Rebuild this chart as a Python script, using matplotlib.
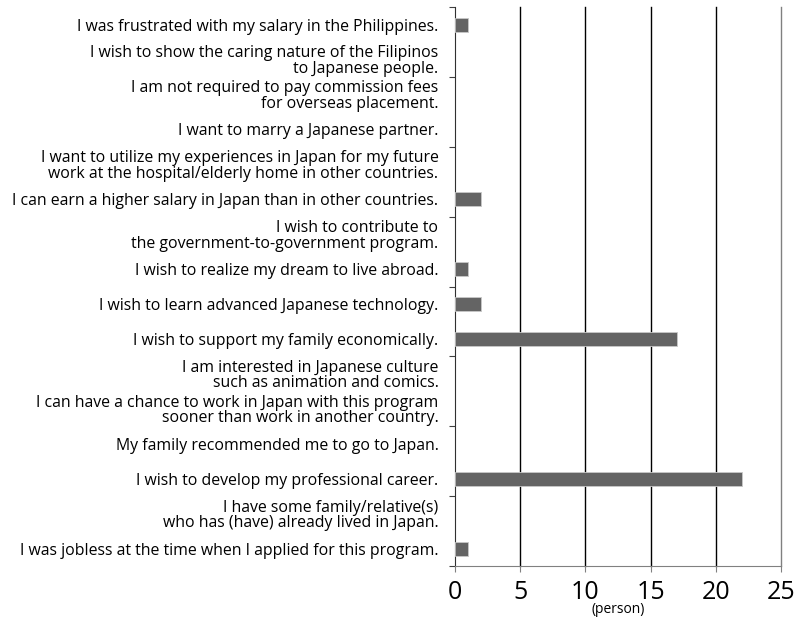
import matplotlib.pyplot as plt
import numpy as np

plt.rcParams['font.family'] = ['Open Sans', 'DejaVu Sans']

# top to bottom, as in the picture
labels = [
    'I was frustrated with my salary in the Philippines.',
    'I wish to show the caring nature of the Filipinos\nto Japanese people.',
    'I am not required to pay commission fees\nfor overseas placement.',
    'I want to marry a Japanese partner.',
    'I want to utilize my experiences in Japan for my future\nwork at the hospital/elderly home in other countries.',
    'I can earn a higher salary in Japan than in other countries.',
    'I wish to contribute to\nthe government-to-government program.',
    'I wish to realize my dream to live abroad.',
    'I wish to learn advanced Japanese technology.',
    'I wish to support my family economically.',
    'I am interested in Japanese culture\nsuch as animation and comics.',
    'I can have a chance to work in Japan with this program\nsooner than work in another country.',
    'My family recommended me to go to Japan.',
    'I wish to develop my professional career.',
    'I have some family/relative(s)\nwho has (have) already lived in Japan.',
    'I was jobless at the time when I applied for this program.',
]
persons = [1, 0, 0, 0, 0, 2, 0, 1, 2, 17, 0, 0, 0, 22, 0, 1]
xticks = [0, 5, 10, 15, 20, 25]

fig = plt.figure(figsize=(7.97, 6.21), dpi=100)
ax = fig.add_axes([0.571, 0.0886, 0.409, 0.900])

n = len(labels)
y = np.arange(n)
edges = ['#c8c8c8' if v > 0 else 'none' for v in persons]
ax.barh(y, persons, height=0.4, color='#646464', edgecolor=edges, linewidth=0.6, zorder=3)
ax.set_ylim(n - 0.5, -0.5)
ax.set_xlim(0, 25)

for x in xticks[1:]:
    ax.axvline(x, color='black' if x < 25 else '#808080', linewidth=1.0, zorder=1, clip_on=False)

ax.set_yticks(y)
ax.set_yticklabels(labels, fontsize=11.4, linespacing=0.95)
ax.tick_params(axis='y', length=0, pad=12)
ax.set_yticks(np.arange(-0.5, n, 2), minor=True)
ax.tick_params(axis='y', which='minor', length=4, width=0.8, color='#404040')

ax.set_xticks(xticks)
ax.set_xticklabels([str(t) for t in xticks], fontsize=18)
ax.tick_params(axis='x', length=4, width=0.8, color='#808080', pad=6)
ax.set_xlabel('(person)', fontsize=10, labelpad=-2)

for s in ['top', 'right']:
    ax.spines[s].set_visible(False)
ax.spines['left'].set_color('#303030')
ax.spines['bottom'].set_color('#808080')

fig.savefig('out.png', dpi=100)
